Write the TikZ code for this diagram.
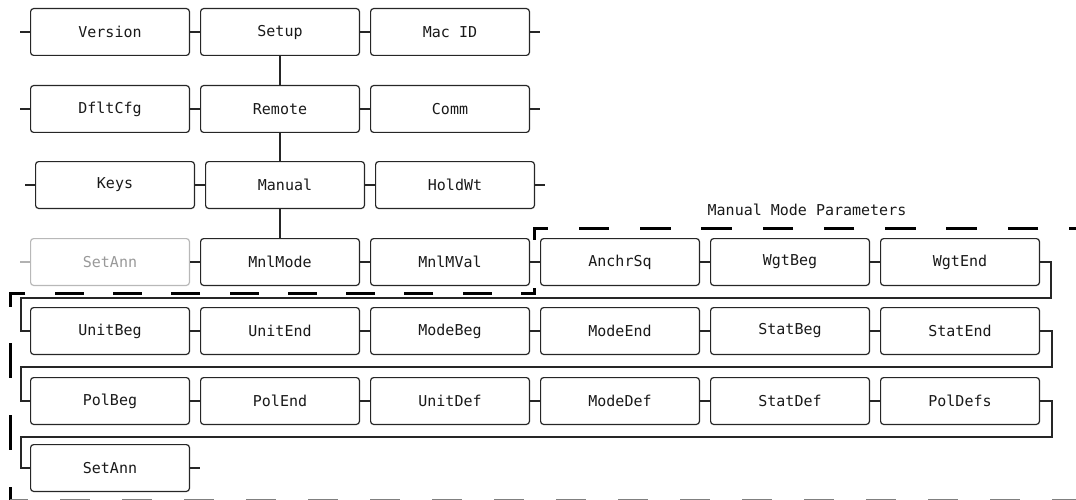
\documentclass[tikz,border=0pt]{standalone}
\usepackage{fontspec}
\newfontfamily\monofnt{DejaVu Sans Mono}
\usetikzlibrary{positioning}

\begin{document}
\begin{tikzpicture}[
    x=1pt, y=1pt,
    node distance=10pt,
    box/.style={draw=black!85, line width=1.2pt, rounded corners=3pt, minimum width=158.8pt, minimum height=46.8pt, inner sep=0pt, text=black!90, font={\monofnt\fontsize{15}{18}\selectfont}},
    ghost/.style={box, draw=black!28, text=black!40},
    link/.style={draw=black!85, line width=1.2pt},
    frame/.style={line width=3pt}
]
\useasboundingbox (0,0) rectangle (1076,-500);

% menu rows
\node[box] (version) at (110,-32) {Version};
\node[box, right=of version] (setup) {Setup};
\node[box, right=of setup] (macid) {Mac ID};
\node[box, below=29pt of version] (dfltcfg) {DfltCfg};
\node[box, right=of dfltcfg] (remote) {Remote};
\node[box, right=of remote] (comm) {Comm};
\node[box, below=28pt of dfltcfg, xshift=5pt] (keys) {Keys};
\node[box, right=of keys] (manual) {Manual};
\node[box, right=of manual] (holdwt) {HoldWt};
\node[ghost, below=29pt of keys, xshift=-5pt] (setannA) {SetAnn};
\node[box, right=of setannA] (mnlmode) {MnlMode};
\node[box, right=of mnlmode] (mnlmval) {MnlMVal};

% manual mode parameters
\node[box, right=of mnlmval] (anchrsq) {AnchrSq};
\node[box, right=of anchrsq] (wgtbeg) {WgtBeg};
\node[box, right=of wgtbeg] (wgtend) {WgtEnd};
\node[box, below=21pt of setannA] (unitbeg) {UnitBeg};
\node[box, right=of unitbeg] (unitend) {UnitEnd};
\node[box, right=of unitend] (modebeg) {ModeBeg};
\node[box, right=of modebeg] (modeend) {ModeEnd};
\node[box, right=of modeend] (statbeg) {StatBeg};
\node[box, right=of statbeg] (statend) {StatEnd};
\node[box, below=22pt of unitbeg] (polbeg) {PolBeg};
\node[box, right=of polbeg] (polend) {PolEnd};
\node[box, right=of polend] (unitdef) {UnitDef};
\node[box, right=of unitdef] (modedef) {ModeDef};
\node[box, right=of modedef] (statdef) {StatDef};
\node[box, right=of statdef] (poldefs) {PolDefs};
\node[box, below=19pt of polbeg] (setannB) {SetAnn};

\node[font={\monofnt\fontsize{15}{18}\selectfont}, text=black!90] (mmp) at (807,-210) {Manual Mode Parameters};

% links along each row
\draw[link] (version) -- (setup);
\draw[link] (setup) -- (macid);
\draw[link] (dfltcfg) -- (remote);
\draw[link] (remote) -- (comm);
\draw[link] (keys) -- (manual);
\draw[link] (manual) -- (holdwt);
\draw[link] (setannA) -- (mnlmode);
\draw[link] (mnlmode) -- (mnlmval);
\draw[link] (mnlmval) -- (anchrsq);
\draw[link] (anchrsq) -- (wgtbeg);
\draw[link] (wgtbeg) -- (wgtend);
\draw[link] (unitbeg) -- (unitend);
\draw[link] (unitend) -- (modebeg);
\draw[link] (modebeg) -- (modeend);
\draw[link] (modeend) -- (statbeg);
\draw[link] (statbeg) -- (statend);
\draw[link] (polbeg) -- (polend);
\draw[link] (polend) -- (unitdef);
\draw[link] (unitdef) -- (modedef);
\draw[link] (modedef) -- (statdef);
\draw[link] (statdef) -- (poldefs);

% open ends
\foreach \n in {version,dfltcfg,keys}
  \draw[link] (\n.west) -- ++(-10,0);
\draw[link, draw=black!30] (setannA.west) -- ++(-10,0);
\foreach \n in {macid,comm,holdwt,setannB}
  \draw[link] (\n.east) -- ++(10,0);

% down the middle column
\draw[link] (setup) -- (remote);
\draw[link] (remote.south) -- (remote.south |- manual.north);
\draw[link] (mnlmode.north |- manual.south) -- (mnlmode);

% wrap to the next row
\draw[link] (wgtend.east) -| ++(11,-36) -| ([xshift=-9pt]unitbeg.west) -- (unitbeg.west);
\draw[link] (statend.east) -| ++(12,-36) -| ([xshift=-9pt]polbeg.west) -- (polbeg.west);
\draw[link] (poldefs.east) -| ++(12,-36) -| ([xshift=-9pt]setannB.west) -- (setannB.west);

% parameter group outline, piece by piece
\draw[frame, dash pattern=on 30.6pt off 30.7pt, dash phase=9.6pt]
  (1090,-228) -- (534,-228) -- (534,-240);
\draw[frame, dash pattern=on 29pt off 29.3pt, dash phase=11pt]
  (534,-288) -- (534,-293) -- (10,-293) -- (10,-307);
\draw[frame, dash pattern=on 35pt off 37pt]
  (10,-343) -- (10,-501);
\draw[frame, draw=black!50, dash pattern=on 30pt off 32pt, dash phase=12pt]
  (10,-500.8) -- (1090,-500.8);
\end{tikzpicture}
\end{document}
